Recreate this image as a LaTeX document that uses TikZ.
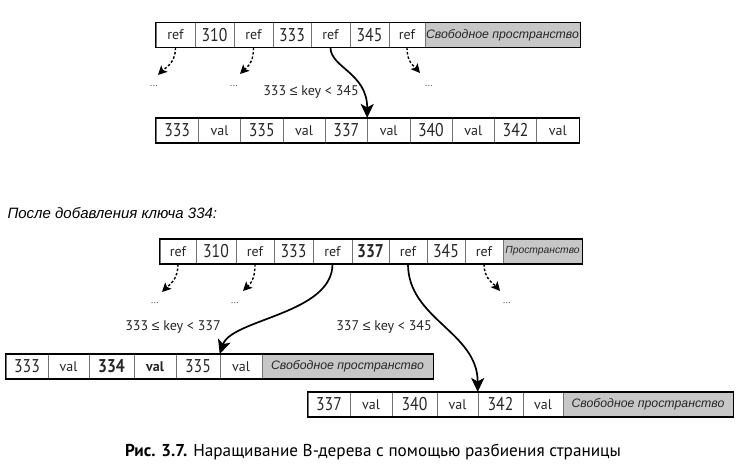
\documentclass[tikz,border=0pt]{standalone}
\usepackage{fontspec}
\setmainfont{PT Sans}
\newfontfamily\numf[FakeStretch=0.85]{PT Sans}
\newfontfamily\arialf{Liberation Sans}
\usetikzlibrary{arrows.meta}
\newcommand\mkcell[6]{\node[cell,#6,minimum width={#3-#2}] (#1) at ({(#2+#3)/2},#4) {#5};}
\newcommand\LE{{\arialf ≤}}
\begin{document}
\begin{tikzpicture}[x=1pt,y=-1pt,
  cell/.style={draw=black!55, line width=0.6pt, inner sep=0pt, minimum height=24.5pt, text=black!85},
  num/.style={font=\numf\fontsize{18.5}{18}\selectfont},
  numb/.style={font=\numf\bfseries\fontsize{18.5}{18}\selectfont},
  sml/.style={font=\fontsize{14}{14}\selectfont},
  smlb/.style={font=\bfseries\fontsize{14}{14}\selectfont},
  free/.style={fill=black!22, font=\arialf\itshape\fontsize{12.3}{13}\selectfont},
  freesm/.style={fill=black!22, font=\arialf\itshape\fontsize{10.3}{11}\selectfont},
  outer/.style={draw=black, line width=1.4pt},
  solidarrow/.style={line width=1.7pt, -{Stealth[length=14pt,width=13pt,inset=3.5pt]}},
  dotarrow/.style={line width=1.4pt, dash pattern=on 2.5pt off 2pt, -{Stealth[length=9pt,width=9pt,inset=2pt]}},
  dots/.style={font=\fontsize{10}{10}\selectfont, text=black!70},
  lab/.style={font=\fontsize{14}{14}\selectfont, text=black!85}
]
\useasboundingbox (0,0) rectangle (740,470);
\fill[white] (0,0) rectangle (740,470);

% ---- Row A (top node)
\mkcell{A1}{156}{195}{35}{ref}{sml}
\mkcell{A2}{195}{234}{35}{310}{num}
\mkcell{A3}{234}{273}{35}{ref}{sml}
\mkcell{A4}{273}{311}{35}{333}{num}
\mkcell{A5}{311}{350}{35}{ref}{sml}
\mkcell{A6}{350}{389}{35}{345}{num}
\mkcell{A7}{389}{425}{35}{ref}{sml}
\mkcell{A8}{425}{580}{35}{Свободное пространство}{free}
\draw[outer] (A1.north west) rectangle (A8.south east);

% ---- Row B (leaf)
\mkcell{B1}{156}{198.3}{130.5}{333}{num}
\mkcell{B2}{198.3}{240.6}{130.5}{val}{sml}
\mkcell{B3}{240.6}{282.9}{130.5}{335}{num}
\mkcell{B4}{282.9}{325.2}{130.5}{val}{sml}
\mkcell{B5}{325.2}{367.5}{130.5}{337}{num}
\mkcell{B6}{367.5}{409.8}{130.5}{val}{sml}
\mkcell{B7}{409.8}{452.1}{130.5}{340}{num}
\mkcell{B8}{452.1}{494.4}{130.5}{val}{sml}
\mkcell{B9}{494.4}{536.7}{130.5}{342}{num}
\mkcell{B10}{536.7}{579}{130.5}{val}{sml}
\draw[outer] (B1.north west) rectangle (B10.south east);

% arrows top
\coordinate (ta1) at (158,75);
\coordinate (ta2) at (240,74);
\coordinate (ta3) at (420,73);
\draw[dotarrow] (A1.south) .. controls +(0,16) and +(7,-7) .. (ta1);
\draw[dotarrow] (A3.south) .. controls +(0,16) and +(7,-7) .. (ta2);
\draw[dotarrow] (A7.south) .. controls +(0,15) and +(-6,-7) .. (ta3);
\node[dots] (t1) at (154,86) {...};
\node[dots] (t2) at (234,86) {...};
\node[dots] (t3) at (429,86) {...};
\draw[solidarrow] (A5.south) .. controls +(0,20) and +(0,-45) .. (B6.north west);
\node[lab] (k1) at (311,92) {333 \LE\ key < 345};

% heading
\node[anchor=west, font=\arialf\itshape\fontsize{15}{15}\selectfont] (hd) at (4,213) {После добавления ключа 334:};

% ---- Row C (new top node)
\mkcell{C1}{160}{196}{251.5}{ref}{sml}
\mkcell{C2}{196}{236}{251.5}{310}{num}
\mkcell{C3}{236}{274}{251.5}{ref}{sml}
\mkcell{C4}{274}{313}{251.5}{333}{num}
\mkcell{C5}{313}{352}{251.5}{ref}{sml}
\mkcell{C6}{352}{389}{251.5}{337}{numb}
\mkcell{C7}{389}{427}{251.5}{ref}{sml}
\mkcell{C8}{427}{465}{251.5}{345}{num}
\mkcell{C9}{465}{503}{251.5}{ref}{sml}
\mkcell{C10}{503}{582}{251.5}{Пространство}{freesm}
\draw[outer] (C1.north west) rectangle (C10.south east);

% ---- Row D (left leaf)
\mkcell{D1}{6}{48}{366.5}{333}{num}
\mkcell{D2}{48}{89}{366.5}{val}{sml}
\mkcell{D3}{89}{134}{366.5}{334}{numb}
\mkcell{D4}{134}{176}{366.5}{val}{smlb}
\mkcell{D5}{176}{220}{366.5}{335}{num}
\mkcell{D6}{220}{262}{366.5}{val}{sml}
\mkcell{D7}{262}{433}{366.5}{Свободное пространство}{free}
\draw[outer] (D1.north west) rectangle (D7.south east);

% ---- Row E (right leaf)
\mkcell{E1}{308}{350}{404.5}{337}{num}
\mkcell{E2}{350}{392}{404.5}{val}{sml}
\mkcell{E3}{392}{437}{404.5}{340}{num}
\mkcell{E4}{437}{478}{404.5}{val}{sml}
\mkcell{E5}{478}{523}{404.5}{342}{num}
\mkcell{E6}{523}{563}{404.5}{val}{sml}
\mkcell{E7}{563}{733}{404.5}{Свободное пространство}{free}
\draw[outer] (E1.north west) rectangle (E7.south east);

% arrows bottom
\coordinate (ba1) at (162,292);
\coordinate (ba2) at (243,291);
\coordinate (ba3) at (500,291);
\draw[dotarrow] (C1.south) .. controls +(0,16) and +(7,-7) .. (ba1);
\draw[dotarrow] (C3.south) .. controls +(0,16) and +(7,-7) .. (ba2);
\draw[dotarrow] (C9.south) .. controls +(0,15) and +(-6,-7) .. (ba3);
\node[dots] (b1) at (155,303) {...};
\node[dots] (b2) at (235,303) {...};
\node[dots] (b3) at (507,303) {...};
\draw[solidarrow] (C5.south) .. controls +(0,50) and +(12,-35) .. (D6.north west);
\draw[solidarrow] (C7.south) .. controls +(0,55) and +(0,-60) .. (E5.north west);
\node[lab] (k2) at (173,327) {333 \LE\ key < 337};
\node[lab] (k3) at (384,327) {337 \LE\ key < 345};

% caption
\node[font=\fontsize{17.2}{18}\selectfont] (cap) at (373,452) {\textbf{Рис. 3.7.} Наращивание B-дерева с помощью разбиения страницы};
\end{tikzpicture}
\end{document}
